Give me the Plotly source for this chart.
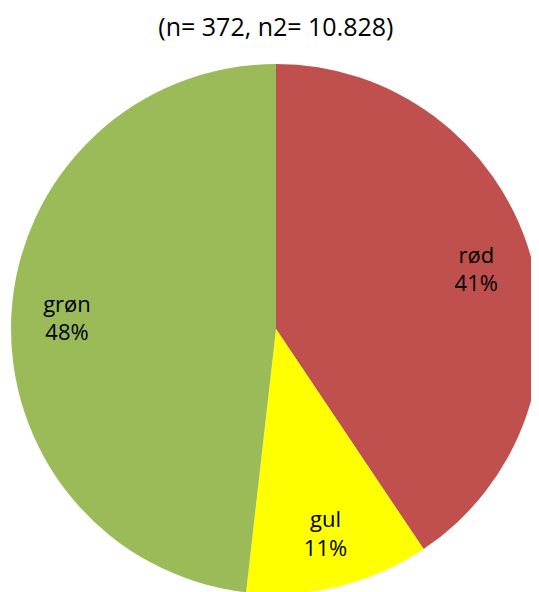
import plotly.graph_objects as go

categories = ["rød", "gul", "grøn"]
values = [40.6, 11.2, 48.2]
colors = ["#C0504D", "#FFFF00", "#9BBB59"]
title_text = "(n= 372, n2= 10.828)"

FONT = "Open Sans"

# filled pie (no text)
fig = go.Figure(go.Pie(
    labels=categories,
    values=values,
    sort=False,
    direction="clockwise",
    rotation=0,
    marker=dict(colors=colors, line=dict(width=0)),
    textinfo="none",
    hoverinfo="label+percent",
    showlegend=False,
))

# transparent ring on top, used only to place the labels further out (best-fit style)
fig.add_trace(go.Pie(
    labels=categories,
    values=values,
    sort=False,
    direction="clockwise",
    rotation=0,
    hole=0.58,
    marker=dict(colors=["rgba(0,0,0,0)"] * len(values), line=dict(width=0)),
    texttemplate="%{label}<br>%{percent:.0%}",
    textposition="inside",
    insidetextorientation="horizontal",
    textfont=dict(family=FONT, size=22, color="black"),
    hoverinfo="skip",
    showlegend=False,
))

fig.update_layout(
    width=539, height=592,
    margin=dict(l=0, r=3, t=56, b=6),
    paper_bgcolor="white",
    title=dict(text=title_text, x=0.497, xanchor="center", y=0.968, yanchor="middle",
               font=dict(family=FONT, size=25, color="black")),
)

fig.write_html("out.html")
